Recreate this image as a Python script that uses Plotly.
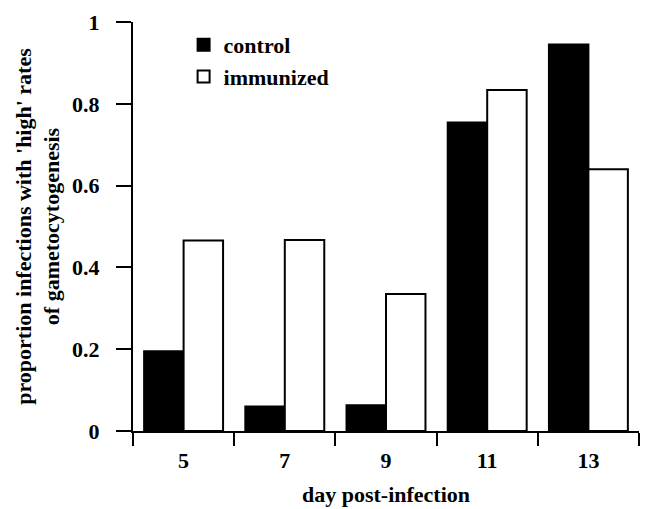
import plotly.graph_objects as go

days = ["5", "7", "9", "11", "13"]
control = [0.195, 0.060, 0.063, 0.754, 0.945]
immunized = [0.466, 0.467, 0.335, 0.834, 0.640]
y_ticks = [0, 0.2, 0.4, 0.6, 0.8, 1]
y_tick_labels = ["0", "0.2", "0.4", "0.6", "0.8", "1"]

FONT = dict(family="Liberation Serif, Times New Roman, serif", size=22, color="black", weight="bold")

fig = go.Figure()
fig.add_trace(go.Bar(
    x=days, y=control, name="control",
    marker=dict(color="black", line=dict(color="black", width=2)),
))
fig.add_trace(go.Bar(
    x=days, y=immunized, name="immunized",
    marker=dict(color="white", line=dict(color="black", width=2)),
))

# page body has an 8px default margin, so the figure is 8px smaller than the window
fig.update_layout(
    width=641, height=501,
    margin=dict(l=125, r=10, t=14, b=78, autoexpand=False),
    paper_bgcolor="white", plot_bgcolor="white",
    barmode="group", bargap=0.22, bargroupgap=0,
    font=FONT,
    showlegend=True,
    legend=dict(x=0.1, y=0.995, xanchor="left", yanchor="top",
                bgcolor="rgba(0,0,0,0)", font=FONT, tracegroupgap=0),
    xaxis=dict(
        type="category", range=[-0.5, 4.5], automargin=False,
        showline=True, linecolor="black", linewidth=2,
        ticks="outside", tickson="boundaries", ticklen=13, tickwidth=2, tickcolor="black",
        tickfont=FONT, ticklabelstandoff=9, showgrid=False, zeroline=False,
        title=dict(text="day post-infection", font=FONT, standoff=14),
    ),
    yaxis=dict(
        range=[0, 1], tickvals=y_ticks, ticktext=y_tick_labels, automargin=False,
        showline=True, linecolor="black", linewidth=2,
        ticks="outside", ticklen=15, tickwidth=2, tickcolor="black",
        tickfont=FONT, ticklabelstandoff=12, showgrid=False, zeroline=False,
        title=dict(text="proportion infections with 'high' rates<br>of gametocytogenesis", font=FONT, standoff=6),
    ),
)

fig.write_html("out.html")
